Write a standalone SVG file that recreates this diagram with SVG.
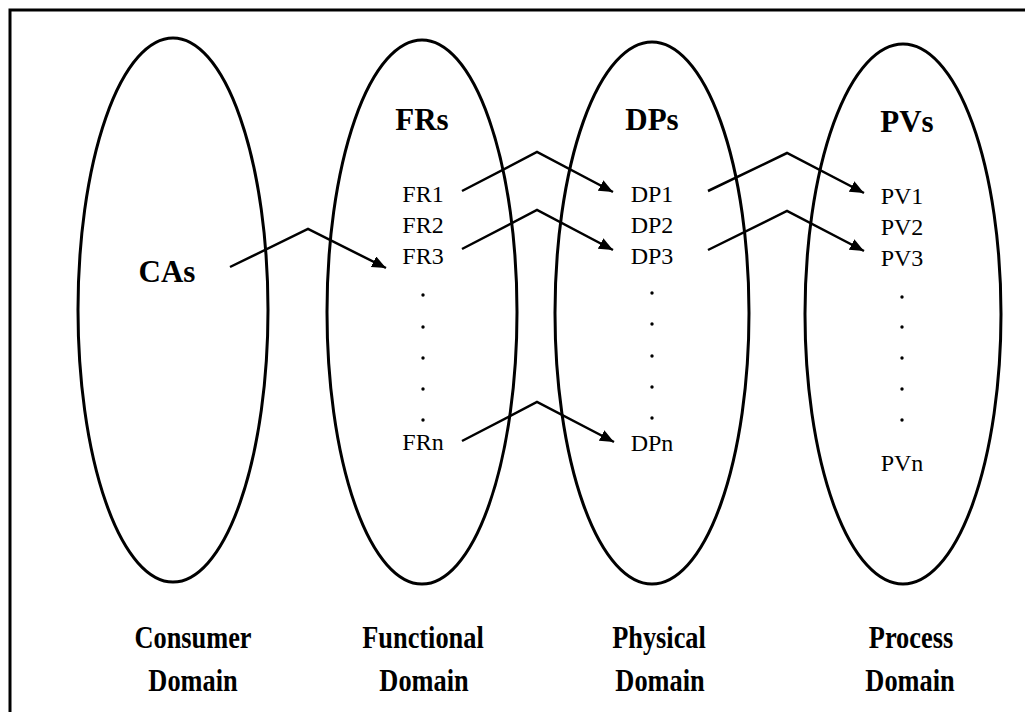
<svg xmlns="http://www.w3.org/2000/svg" width="1025" height="712" viewBox="0 0 1025 712">
<defs>
<style>
.frame{fill:none;stroke:#000;stroke-width:3}
.dom{fill:none;stroke:#000;stroke-width:3}
.con{fill:none;stroke:#000;stroke-width:2.5}
.hd{font-family:"Liberation Serif",serif;font-weight:bold;font-size:31px;text-anchor:middle;fill:#000}
.it{font-family:"Liberation Serif",serif;font-size:24px;text-anchor:middle;fill:#000}
.lb{font-family:"Liberation Serif",serif;font-weight:bold;font-size:31px;text-anchor:middle;fill:#000}
.dot{fill:#000}
</style>
<marker id="ah" markerUnits="userSpaceOnUse" markerWidth="16" markerHeight="14" refX="14" refY="6" orient="auto">
<path d="M0,0 L14,6 L0,12 Z" fill="#000"/>
</marker>
</defs>
<rect width="1025" height="712" fill="#fff"/>
<path class="frame" d="M10,712 V10 H1025"/>

<g id="consumer">
<ellipse class="dom" cx="173" cy="310" rx="95" ry="272"/>
<text class="hd" x="167" y="282">CAs</text>
<text class="lb" x="193" y="648" transform="translate(193,0) scale(0.85,1) translate(-193,0)">Consumer</text>
<text class="lb" x="193" y="691" transform="translate(193,0) scale(0.85,1) translate(-193,0)">Domain</text>
</g>

<g id="functional">
<ellipse class="dom" cx="422" cy="312" rx="95" ry="272"/>
<text class="hd" x="422" y="130">FRs</text>
<text class="it" x="423" y="202">FR1</text>
<text class="it" x="423" y="233">FR2</text>
<text class="it" x="423" y="264">FR3</text>
<circle class="dot" cx="423" cy="295" r="1.7"/>
<circle class="dot" cx="423" cy="327" r="1.7"/>
<circle class="dot" cx="423" cy="358" r="1.7"/>
<circle class="dot" cx="423" cy="389" r="1.7"/>
<circle class="dot" cx="423" cy="420" r="1.7"/>
<text class="it" x="423" y="450">FRn</text>
<text class="lb" x="423" y="648" transform="translate(423,0) scale(0.85,1) translate(-423,0)">Functional</text>
<text class="lb" x="424" y="691" transform="translate(424,0) scale(0.85,1) translate(-424,0)">Domain</text>
</g>

<g id="physical">
<ellipse class="dom" cx="652" cy="313" rx="97" ry="271"/>
<text class="hd" x="652" y="130">DPs</text>
<text class="it" x="652" y="202">DP1</text>
<text class="it" x="652" y="233">DP2</text>
<text class="it" x="652" y="264">DP3</text>
<circle class="dot" cx="652" cy="293" r="1.7"/>
<circle class="dot" cx="652" cy="324" r="1.7"/>
<circle class="dot" cx="652" cy="356" r="1.7"/>
<circle class="dot" cx="652" cy="387" r="1.7"/>
<circle class="dot" cx="652" cy="418" r="1.7"/>
<text class="it" x="652" y="451">DPn</text>
<text class="lb" x="659" y="648" transform="translate(659,0) scale(0.85,1) translate(-659,0)">Physical</text>
<text class="lb" x="660" y="691" transform="translate(660,0) scale(0.85,1) translate(-660,0)">Domain</text>
</g>

<g id="process">
<ellipse class="dom" cx="903" cy="314" rx="98" ry="270"/>
<text class="hd" x="907" y="132">PVs</text>
<text class="it" x="902" y="204">PV1</text>
<text class="it" x="902" y="235">PV2</text>
<text class="it" x="902" y="266">PV3</text>
<circle class="dot" cx="902" cy="297" r="1.7"/>
<circle class="dot" cx="902" cy="327" r="1.7"/>
<circle class="dot" cx="902" cy="358" r="1.7"/>
<circle class="dot" cx="902" cy="389" r="1.7"/>
<circle class="dot" cx="902" cy="420" r="1.7"/>
<text class="it" x="902" y="471">PVn</text>
<text class="lb" x="911" y="648" transform="translate(911,0) scale(0.85,1) translate(-911,0)">Process</text>
<text class="lb" x="910" y="691" transform="translate(910,0) scale(0.85,1) translate(-910,0)">Domain</text>
</g>

<g id="connectors">
<polyline class="con" points="230,267 308,229 386,268" marker-end="url(#ah)"/>
<polyline class="con" points="462,191 537,152 613,192" marker-end="url(#ah)"/>
<polyline class="con" points="462,249 537,210 613,250" marker-end="url(#ah)"/>
<polyline class="con" points="462,441 537,402 614,442" marker-end="url(#ah)"/>
<polyline class="con" points="708,191 787,153 864,193" marker-end="url(#ah)"/>
<polyline class="con" points="708,250 787,211 864,251" marker-end="url(#ah)"/>
</g>
</svg>
